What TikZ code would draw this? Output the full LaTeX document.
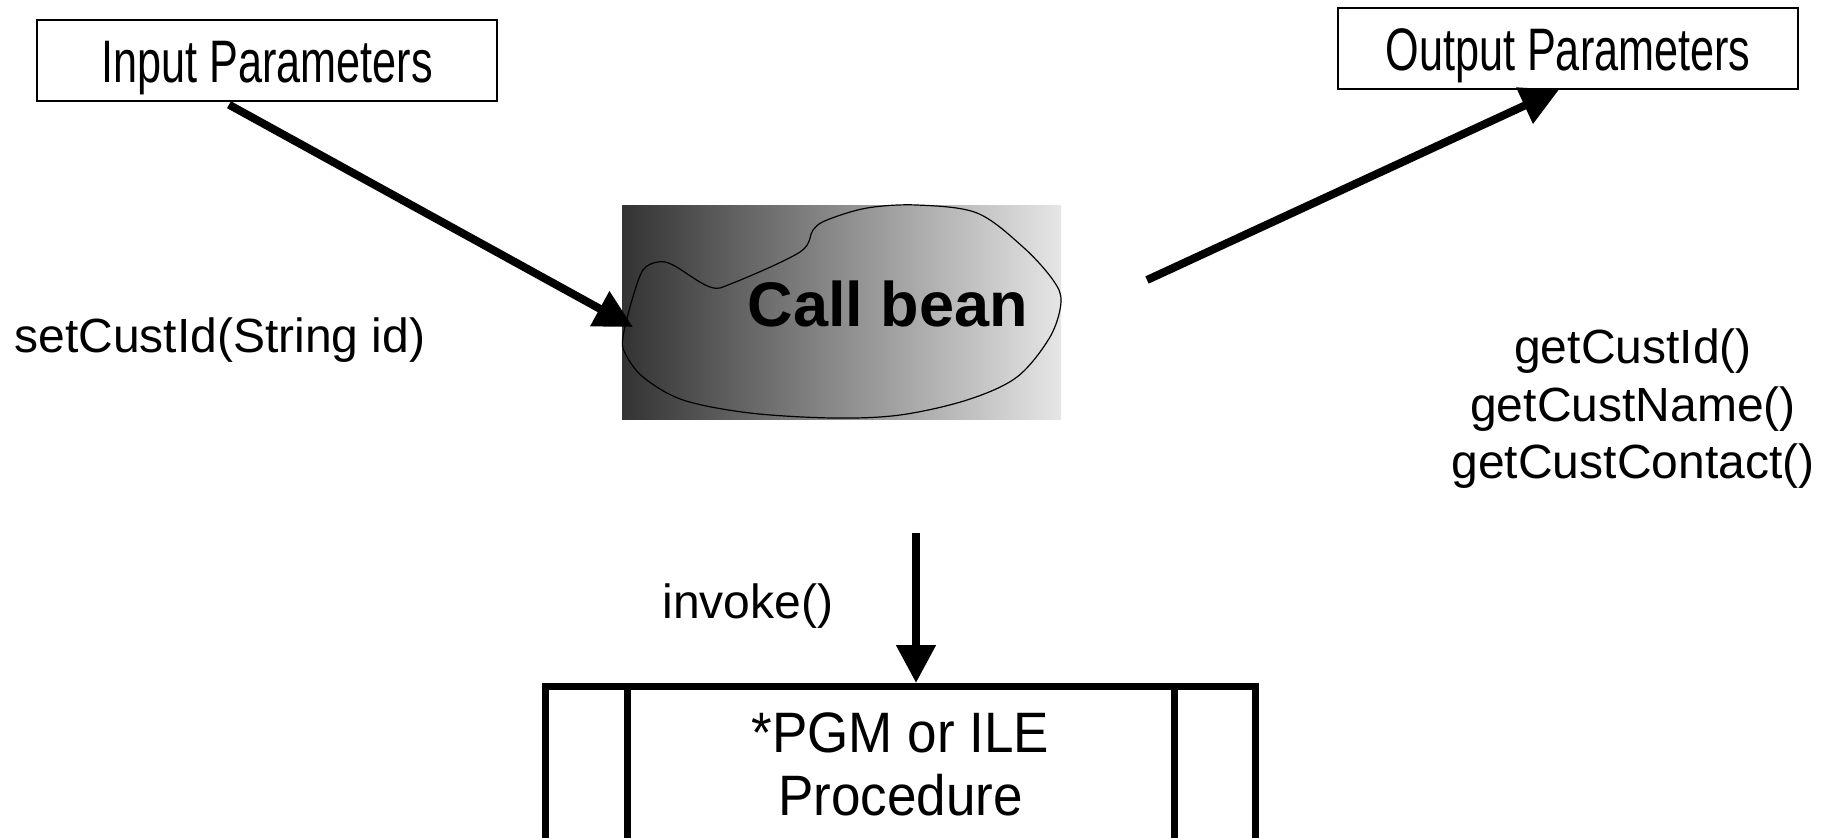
\documentclass[tikz,border=0pt]{standalone}
\usepackage{fontspec}
\setmainfont{Liberation Sans}
\newfontfamily\paramfont[FakeStretch=0.72]{Liberation Sans}
\newfontfamily\procfont[FakeStretch=0.93]{Liberation Sans}
\usetikzlibrary{arrows.meta}

\tikzset{
  parambox/.style={draw, line width=0.7pt, minimum width=230pt, minimum height=40.5pt,
    inner sep=0pt, text height=22pt, text depth=0pt,
    font=\paramfont\fontsize{30}{36}\selectfont},
  method/.style={inner sep=0pt, font=\fontsize{24}{28.75}\selectfont},
  procbox/.style={draw, line width=3.5pt, minimum width=355pt, minimum height=78pt,
    inner sep=0pt, align=center, font=\procfont\fontsize{28.5}{31.5}\selectfont},
  flow/.style={line width=4pt, -{Triangle[length=19pt,width=19pt]}}
}

\begin{document}
\begin{tikzpicture}[x=0.5pt, y=-0.5pt]
  \useasboundingbox (0,0) rectangle (1833,837);
  % Parameter boxes
  \node[parambox] (in) at (267,60.5) {Input Parameters};
  \node[parambox] (out) at (1568,48.5) {Output Parameters};

  % Bean - shaded backdrop with a hand drawn outline
  \shade[left color=black!80, right color=black!10] (622,205) rectangle (1061,419);
  \draw[line width=0.6pt] plot[smooth cycle, tension=0.55] coordinates {
      (623,337) (632,300) (643,270) (658,262) (673,265) (710,287) (733,283)
      (800,252) (813,230) (827,220) (867,208) (917,205) (977,213) (1023,247)
      (1053,280) (1061,302) (1050,337) (1017,377) (967,400) (900,415)
      (833,418) (750,413) (683,400) (643,377) (625,353)
  };
  \node[inner sep=0pt, font=\bfseries\fontsize{31.5}{38}\selectfont] (bean) at (888,304) {Call bean};
  \coordinate (bean-in) at (633,327);
  \coordinate (bean-out) at (1147,280);
  \coordinate (bean-down) at (916,533);

  % Method labels
  \node[method, anchor=base west] (set) at (14,352) {setCustId(String id)};
  \node[method, align=center] (get) at (1633,409) {getCustId()\\getCustName()\\getCustContact()};
  \node[method, anchor=base west] (inv) at (662,618) {invoke()};

  % Program box, cut off at the bottom
  \node[procbox] (proc) at (900.5,764.5) {*PGM or ILE\\Procedure};
  \draw[line width=3.5pt] ([xshift=42.5pt]proc.north west) -- ([xshift=42.5pt]proc.south west);
  \draw[line width=3.5pt] ([xshift=-42.5pt]proc.north east) -- ([xshift=-42.5pt]proc.south east);

  % Arrows
  \draw[flow] ([xshift=-19pt,yshift=-1.5pt]in.south) -- (bean-in);
  \draw[flow] (bean-out) -- ([xshift=-4.5pt]out.south);
  \draw[flow] (bean-down) -- ([xshift=7.75pt]proc.north);
\end{tikzpicture}
\end{document}
